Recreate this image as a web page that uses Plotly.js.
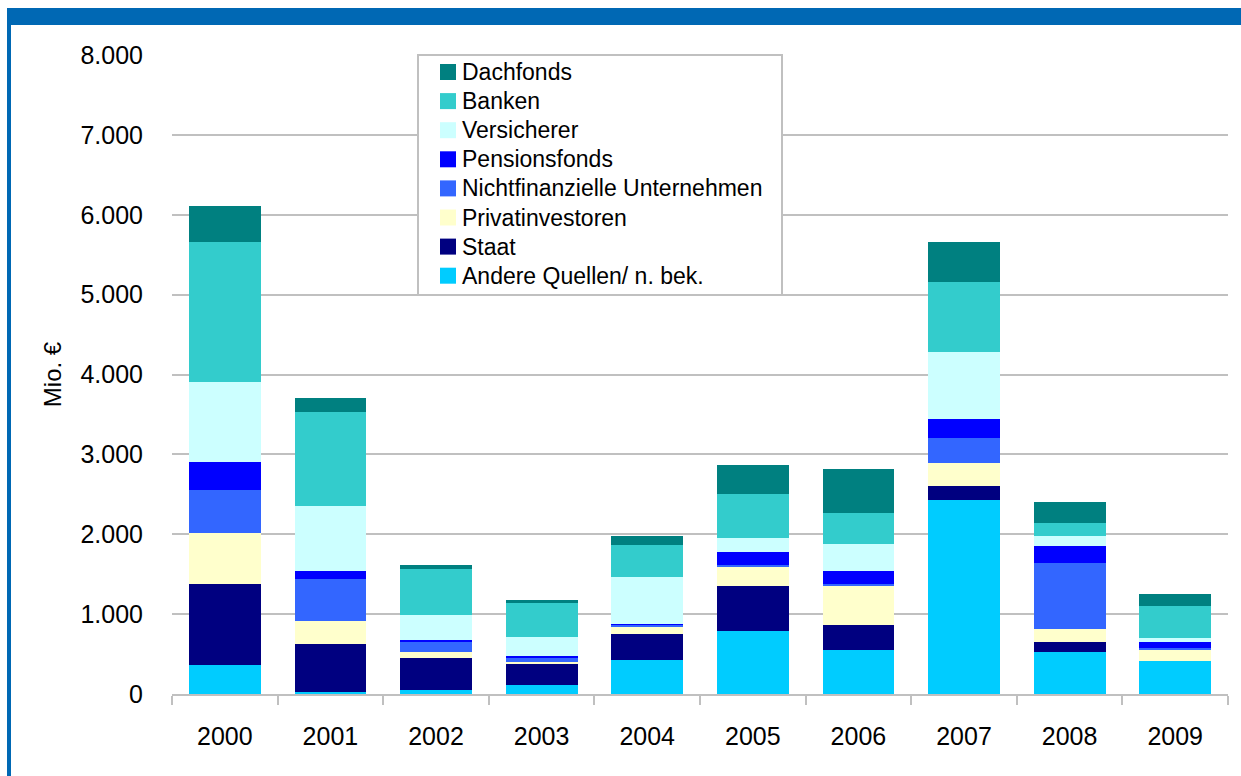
<!DOCTYPE html>
<html>
<head>
<meta charset="utf-8">
<script src="https://cdn.plot.ly/plotly-3.0.1.min.js"></script>
<style>
  html, body { margin: 0; padding: 0; background: #ffffff; }
  #wrap { position: relative; width: 1241px; height: 776px; overflow: hidden; }
  #chart { position: absolute; left: 0; top: 0; width: 1241px; height: 776px; }
  .band { position: absolute; background: #0068b4; z-index: 10; }
</style>
</head>
<body>
<div id="wrap">
  <div id="chart"></div>
  <div class="band" style="left:7px; top:8px; width:1234px; height:17px;"></div>
  <div class="band" style="left:7px; top:8px; width:4px; height:768px;"></div>
</div>
<script>
const years = ['2000','2001','2002','2003','2004','2005','2006','2007','2008','2009'];

const andere      = [357,   31,  56, 110,  420,  795,  557, 2423,  532, 407];
const staat       = [1014, 589, 401, 260,  325,  563,  301,  187,  125,  12];
const privat      = [639,  288,  63,  25,   88,  238,  500,  288,  163, 126];
const nichtfin    = [538,  538, 125,  50,   37,   25,   25,  313,  814,  37];
const pensions    = [351,  100,  25,  26,   10,  163,  151,  238,  213,  63];
const versicherer = [1001, 802, 313, 237,  589,  163,  350,  839,  125,  50];
const banken      = [1765,1177, 588, 426,  400,  563,  376,  864,  175, 401];
const dachfonds   = [439,  175,  50,  38,  113,  351,  551,  501,  263, 150];

const seriesNames = ['Andere Quellen/ n. bek.', 'Staat', 'Privatinvestoren',
  'Nichtfinanzielle Unternehmen', 'Pensionsfonds', 'Versicherer', 'Banken', 'Dachfonds'];
const seriesValues = [andere, staat, privat, nichtfin, pensions, versicherer, banken, dachfonds];
const seriesColors = ['#00ccff', '#000080', '#ffffcc', '#3366ff', '#0000ff', '#ccffff', '#33cccc', '#008080'];

const FONT = 'Liberation Sans, Arial, sans-serif';

// plot-area geometry (pixels)
const W = 1241, H = 776, ML = 172, MR = 13, MT = 55, MB = 82;
const PW = W - ML - MR, PH = H - MT - MB;
const px = v => (v - ML) / PW;          // pixel x -> paper x
const py = v => (H - MB - v) / PH;      // pixel y -> paper y

const traces = seriesNames.map((name, i) => ({
  type: 'bar',
  name: name,
  x: years,
  y: seriesValues[i],
  marker: { color: seriesColors[i], line: { width: 0 } },
  hoverinfo: 'name+y',
  showlegend: false
}));

// legend (top entry = last series), drawn as box + swatches + text
const shapes = [{
  type: 'rect', xref: 'paper', yref: 'paper', layer: 'above',
  x0: px(418), x1: px(782), y0: py(295), y1: py(55),
  fillcolor: '#ffffff', line: { color: '#c0c0c0', width: 2 }
}];
const annotations = [];
const order = seriesNames.map((_, i) => seriesNames.length - 1 - i);
order.forEach((si, k) => {
  const cy = 72 + 29.1 * k;
  shapes.push({
    type: 'rect', xref: 'paper', yref: 'paper', layer: 'above',
    x0: px(440), x1: px(456), y0: py(cy + 8), y1: py(cy - 8),
    fillcolor: seriesColors[si], line: { width: 0 }
  });
  annotations.push({
    xref: 'paper', yref: 'paper', x: px(460), y: py(cy),
    xanchor: 'left', yanchor: 'middle', showarrow: false,
    text: seriesNames[si],
    font: { family: FONT, size: 23, color: '#000000' }
  });
});

const layout = {
  width: W,
  height: H,
  margin: { l: ML, r: MR, t: MT, b: MB, pad: 0 },
  paper_bgcolor: '#ffffff',
  plot_bgcolor: '#ffffff',
  barmode: 'stack',
  bargap: 0.32,
  separators: ',.',
  font: { family: FONT, color: '#000000', size: 24 },
  showlegend: false,
  shapes: shapes,
  annotations: annotations,
  xaxis: {
    type: 'category',
    showgrid: false,
    showline: true,
    linecolor: '#c0c0c0',
    linewidth: 2,
    ticks: 'outside',
    tickson: 'boundaries',
    ticklen: 9,
    tickwidth: 2,
    tickcolor: '#c0c0c0',
    tickfont: { family: FONT, size: 25, color: '#000000' },
    ticklabelstandoff: 19,
    fixedrange: true
  },
  yaxis: {
    range: [0, 8000],
    dtick: 1000,
    tick0: 0,
    tickformat: ',d',
    showgrid: true,
    gridcolor: '#c0c0c0',
    gridwidth: 2,
    zeroline: false,
    showline: false,
    ticks: '',
    tickfont: { family: FONT, size: 25, color: '#000000' },
    ticklabelstandoff: 28,
    title: { text: 'Mio. €', font: { family: FONT, size: 24, color: '#000000' }, standoff: 12 },
    automargin: false,
    fixedrange: true
  }
};

Plotly.newPlot('chart', traces, layout, { displayModeBar: false, staticPlot: true });
</script>
</body>
</html>
